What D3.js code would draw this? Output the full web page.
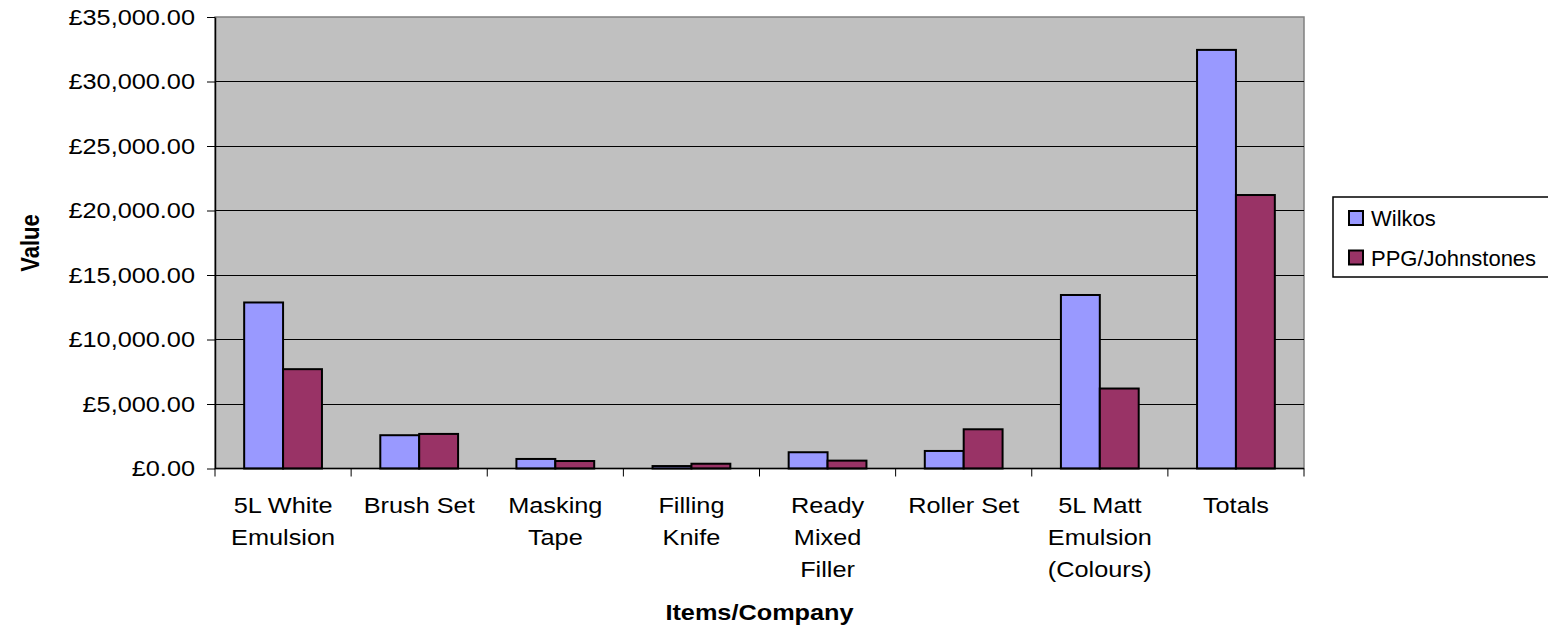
<!DOCTYPE html>
<html>
<head>
<meta charset="utf-8">
<script src="https://cdn.jsdelivr.net/npm/d3@7"></script>
<style>
body { margin: 0; background: #fff; }
text { font-family: Arial, "Liberation Sans", sans-serif; fill: #000; }
</style>
</head>
<body>
<div id="chart"></div>
<script>
// values
let categories = ['5L White Emulsion', 'Brush Set', 'Masking Tape', 'Filling Knife', 'Ready Mixed Filler', 'Roller Set', '5L Matt Emulsion (Colours)', 'Totals']
let seriesNames = ['Wilkos', 'PPG/Johnstones']
let wilkos = [12870, 2580, 740, 190, 1260, 1360, 13450, 32450]
let ppg = [7700, 2680, 580, 370, 610, 3040, 6200, 21200]
let seriesColors = ['#9999FF', '#993366']
let yTicks = [0, 5000, 10000, 15000, 20000, 25000, 30000, 35000]

let width = 1548
let height = 627
let plot = { left: 215, right: 1304, top: 17, bottom: 468.5 }
let sx = 1.15   // text in the picture is a bit wider than tall

let svg = d3.select('#chart').append('svg')
    .attr('width', width)
    .attr('height', height)

let x = d3.scaleBand()
    .domain(categories)
    .range([plot.left, plot.right])

let inner = d3.scaleBand()
    .domain(seriesNames)
    .range([0, x.bandwidth()])
    .paddingOuter(0.75)

let y = d3.scaleLinear()
    .domain([0, 35000])
    .range([plot.bottom, plot.top])

// plot area
svg.append('rect')
    .attr('x', plot.left)
    .attr('y', plot.top)
    .attr('width', plot.right - plot.left)
    .attr('height', plot.bottom - plot.top)
    .attr('fill', '#C0C0C0')
    .attr('stroke', '#808080')
    .attr('stroke-width', 1.5)

svg.append('g')
    .selectAll('line')
    .data(yTicks.filter(d => d > 0 && d < 35000))
    .enter()
    .append('line')
        .attr('x1', plot.left)
        .attr('x2', plot.right)
        .attr('y1', d => y(d))
        .attr('y2', d => y(d))
        .attr('stroke', '#000')
        .attr('stroke-width', 1)
        .attr('shape-rendering', 'crispEdges')

// bars
let rows = categories.map((cat, i) => ({ cat, values: [wilkos[i], ppg[i]] }))

let groups = svg.append('g')
    .selectAll('g')
    .data(rows)
    .enter()
    .append('g')
        .attr('transform', d => `translate(${x(d.cat)},0)`)

groups.selectAll('rect')
    .data(d => d.values.map((v, j) => ({ name: seriesNames[j], value: v, j })))
    .enter()
    .append('rect')
        .attr('x', d => inner(d.name))
        .attr('width', inner.bandwidth())
        .attr('y', d => y(d.value))
        .attr('height', d => y(0) - y(d.value))
        .attr('fill', d => seriesColors[d.j])
        .attr('stroke', '#000')
        .attr('stroke-width', 2)

// y axis
let yAxis = svg.append('g')
    .attr('transform', `translate(${plot.left},0)`)
    .call(d3.axisLeft(y)
        .tickValues(yTicks)
        .tickSize(8)
        .tickSizeOuter(0)
        .tickFormat(d => '£' + d3.format(',.2f')(d))
    )
yAxis.select('.domain').attr('stroke', '#000').attr('stroke-width', 1.5)
yAxis.selectAll('.tick line').attr('stroke', '#000')
yAxis.selectAll('.tick text')
    .attr('x', 0)
    .attr('transform', `translate(-20,0) scale(${sx},1)`)
    .attr('font-size', 22)
    .attr('font-family', 'Arial, "Liberation Sans", sans-serif')

// x axis
let xAxis = svg.append('g')
    .attr('transform', `translate(0,${plot.bottom})`)
xAxis.append('line')
    .attr('x1', plot.left)
    .attr('x2', plot.right)
    .attr('stroke', '#000')
    .attr('stroke-width', 1.5)
xAxis.selectAll('line.tick')
    .data(d3.range(categories.length + 1))
    .enter()
    .append('line')
        .attr('class', 'tick')
        .attr('x1', i => plot.left + i * x.step())
        .attr('x2', i => plot.left + i * x.step())
        .attr('y1', 0)
        .attr('y2', 8)
        .attr('stroke', '#000')

function wrapWords(textSel, label, maxWidth) {
    let words = label.split(' ')
    let lines = []
    let line = []
    words.forEach(w => {
        let trial = line.concat([w]).join(' ')
        textSel.text(trial)
        if (line.length && textSel.node().getComputedTextLength() > maxWidth) {
            lines.push(line.join(' '))
            line = [w]
        } else {
            line.push(w)
        }
    })
    lines.push(line.join(' '))
    textSel.text(null)
    return lines
}

xAxis.selectAll('text.cat-label')
    .data(categories)
    .enter()
    .append('text')
        .attr('class', 'cat-label')
        .attr('font-size', 22)
        .attr('text-anchor', 'middle')
        .attr('transform', d => `translate(${x(d) + x.bandwidth() / 2},44.5) scale(${sx},1)`)
        .each(function(d) {
            let t = d3.select(this)
            let lines = wrapWords(t, d, 104)
            lines.forEach((l, k) => {
                t.append('tspan')
                    .attr('x', 0)
                    .attr('y', k * 32)
                    .text(l)
            })
        })

// axis titles
svg.append('text')
    .attr('transform', `translate(${(plot.left + plot.right) / 2},620) scale(${sx},1)`)
    .attr('text-anchor', 'middle')
    .attr('font-size', 22)
    .attr('font-weight', 'bold')
    .text('Items/Company')

svg.append('text')
    .attr('transform', `translate(39,243) rotate(-90) scale(1,${sx})`)
    .attr('text-anchor', 'middle')
    .attr('font-size', 22)
    .attr('font-weight', 'bold')
    .text('Value')

// legend
let legend = svg.append('g')
legend.append('rect')
    .attr('x', 1333)
    .attr('y', 197)
    .attr('width', 240)
    .attr('height', 80)
    .attr('fill', '#fff')
    .attr('stroke', '#000')
    .attr('stroke-width', 1.5)

let items = legend.selectAll('g.item')
    .data(seriesNames)
    .enter()
    .append('g')
        .attr('class', 'item')
        .attr('transform', (d, i) => `translate(1349,${211 + i * 39.5})`)
items.append('rect')
    .attr('width', 14)
    .attr('height', 14)
    .attr('fill', (d, i) => seriesColors[i])
    .attr('stroke', '#000')
    .attr('stroke-width', 2)
items.append('text')
    .attr('x', 22)
    .attr('y', 15)
    .attr('font-size', 22)
    .text(d => d)
</script>
</body>
</html>
